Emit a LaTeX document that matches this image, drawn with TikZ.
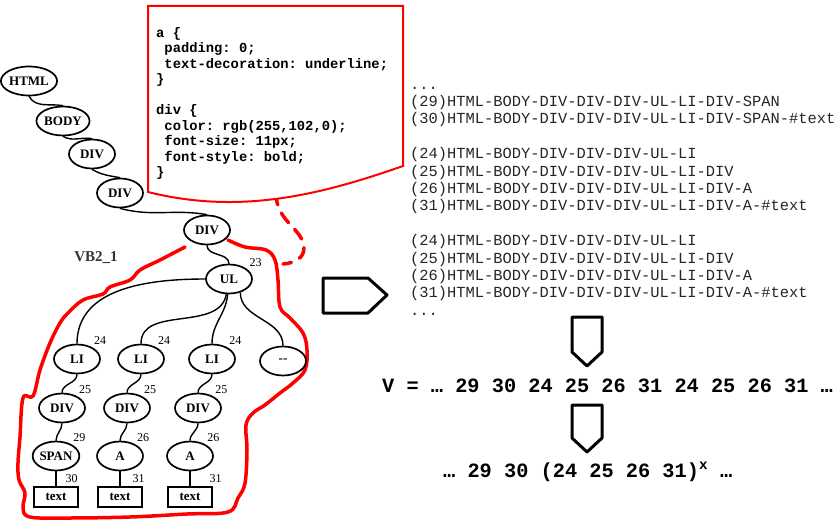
\documentclass[tikz,border=0pt]{standalone}
\usepackage{fontspec}
\setmainfont{Liberation Serif}
\setmonofont{Liberation Mono}
\usetikzlibrary{shapes.geometric, positioning}

\begin{document}
\begin{tikzpicture} [
						x=1pt, y=1pt,
						node distance=41pt,
						tag/.style={ellipse, draw, fill=white, line width=1.7pt, minimum width=46pt,
							minimum height=29pt, inner sep=0pt, font=\fontsize{13}{14}\selectfont\bfseries},
						leaf/.style={draw, fill=white, line width=1.7pt, minimum width=44pt,
							minimum height=20pt, inner sep=0pt, font=\fontsize{13}{14}\selectfont\bfseries},
						num/.style={font=\fontsize{12}{13}\selectfont, inner sep=1pt},
						nr/.style={label={[num, label distance=2pt]40:#1}},
						link/.style={line width=1.4pt},
						hand/.style={red, line width=3.5pt, line cap=round, line join=round},
						note/.style={red, line width=2pt},
						cue/.style={line width=3pt, line join=round},
						code/.style={align=left, anchor=north west, inner sep=0pt}
					]

\useasboundingbox (0,0) rectangle (837,-519);

% freehand outline of the block
\draw[hand] plot[smooth, tension=0.6] coordinates {
	(228,-240) (245,-247) (266,-250) (275,-260) (278,-280) (280,-307) (290,-318)
	(303,-333) (307,-350) (305,-370) (293,-383) (280,-393) (265,-405) (253,-413)
	(246,-425) (247,-450) (245,-483) (238,-498) (228,-512) (187,-514) (130,-517)
	(67,-518) (30,-517) (23,-508) (25,-493) (19,-480) (18,-463) (20,-437)
	(23,-398) (33,-396) (40,-370) (50,-343) (60,-323) (68,-313) (83,-300)
	(103,-294) (110,-287) (130,-280) (140,-270) (160,-260) (185,-247)};
\draw[hand, dash pattern=on 12pt off 9pt] (276,-193) .. controls (276,-222) and (303,-228) .. (304,-248)
	.. controls (304,-258) and (295,-263) .. (283,-264);

% css callout
\draw[note, fill=white] (148,-6) -- (403,-6) -- (403,-166)
	.. controls (320,-195) and (240,-215) .. (148,-192) -- cycle;
\node (css) [code, font=\ttfamily\bfseries\fontsize{13.8}{15.5}\selectfont] at (156,-26.2) {\strut a \{\\
\hphantom{a}padding: 0;\\
\hphantom{a}text-decoration: underline;\\
\}\\[15.5pt]
div \{\\
\hphantom{a}color: rgb(255,102,0);\\
\hphantom{a}font-size: 11px;\\
\hphantom{a}font-style: bold;\\
\}};

% dom tree
\node (html) [tag] at (29,-81) {HTML};
\node (body) [tag] at (63,-121) {BODY};
\node (div1) [tag] at (92,-154) {DIV};
\node (div2) [tag] at (120,-193) {DIV};
\node (div3) [tag] at (207,-230) {DIV};
\node (ul) [tag, label={[num, label distance=2pt]30:23}] at (229,-279) {UL};
\node (li1) [tag, nr=24] at (77,-359) {LI};
\node (li2) [tag, nr=24] at (141,-359) {LI};
\node (li3) [tag, nr=24] at (212,-359) {LI};
\node (more) [tag] at (283,-361) {-{}-};
\node (dv1) [tag, nr=25] at (62,-408) {DIV};
\node (dv2) [tag, nr=25] at (127,-408) {DIV};
\node (dv3) [tag, nr=25] at (198,-408) {DIV};
\node (span) [tag, nr=29] at (56,-456) {SPAN};
\node (a1) [tag, nr=26] at (120,-456) {A};
\node (a2) [tag, nr=26] at (190,-456) {A};
\node (txt1) [leaf, below of=span] {text};
\node (txt2) [leaf, below of=a1] {text};
\node (txt3) [leaf, below of=a2] {text};
\node (vb) [font=\fontsize{15}{16}\selectfont\bfseries, text=black!80] at (96,-258) {VB2\_1};

\path[link]
	(html.south) edge [out=-60, in=170] (body.north)
	(body.south) edge [out=-30, in=170] (div1.north)
	(div1.south) edge [out=-30, in=170] (div2.north)
	(div2.south) edge [out=-15, in=170] (div3.north)
	(div3.south) edge [out=-90, in=90] (ul.north)
	(ul.west) edge [out=180, in=90] (li1.north)
	(ul) edge [out=-100, in=90] (li2.north)
	(ul) edge [out=-95, in=90] (li3.north)
	(ul.-50) edge [out=-90, in=90] (more.north)
	(li1) edge [out=-90, in=90] (dv1)
	(li2) edge [out=-90, in=90] (dv2)
	(li3) edge [out=-90, in=90] (dv3)
	(dv1) edge [out=-90, in=90] (span)
	(dv2) edge [out=-90, in=90] (a1)
	(dv3) edge [out=-90, in=90] (a2)
	(span) edge node[num, right=8pt] {30} (txt1)
	(a1) edge node[num, right=11pt] {31} (txt2)
	(a2) edge node[num, right=18pt] {31} (txt3);

% paths and sequence
\node (paths) [code, font=\ttfamily\fontsize{15.4}{17.4}\selectfont, text=black!85] at (410,-76.8) {\strut...\\
(29)HTML-BODY-DIV-DIV-DIV-UL-LI-DIV-SPAN\\
(30)HTML-BODY-DIV-DIV-DIV-UL-LI-DIV-SPAN-\#text\\[17.4pt]
(24)HTML-BODY-DIV-DIV-DIV-UL-LI\\
(25)HTML-BODY-DIV-DIV-DIV-UL-LI-DIV\\
(26)HTML-BODY-DIV-DIV-DIV-UL-LI-DIV-A\\
(31)HTML-BODY-DIV-DIV-DIV-UL-LI-DIV-A-\#text\\[17.4pt]
(24)HTML-BODY-DIV-DIV-DIV-UL-LI\\
(25)HTML-BODY-DIV-DIV-DIV-UL-LI-DIV\\
(26)HTML-BODY-DIV-DIV-DIV-UL-LI-DIV-A\\
(31)HTML-BODY-DIV-DIV-DIV-UL-LI-DIV-A-\#text\\
...};

\draw[cue] (323,-278) -- (368,-278) -- (387,-295) -- (368,-313) -- (323,-313) -- cycle;
\draw[cue] (572,-317) -- (602,-317) -- (602,-352) -- (587,-366) -- (572,-352) -- cycle;
\draw[cue] (572,-405) -- (602,-405) -- (602,-438) -- (587,-452) -- (572,-438) -- cycle;

\node (seq) [anchor=base west, inner sep=0pt, font=\ttfamily\bfseries\fontsize{20.3}{22}\selectfont]
	at (382,-392) {V = … 29 30 24 25 26 31 24 25 26 31 …};
\node (loop) [anchor=base west, inner sep=0pt, font=\ttfamily\bfseries\fontsize{20.3}{22}\selectfont]
	at (443,-477) {… 29 30 (24 25 26 31)\textsuperscript{x} …};

\end{tikzpicture}
\end{document}
